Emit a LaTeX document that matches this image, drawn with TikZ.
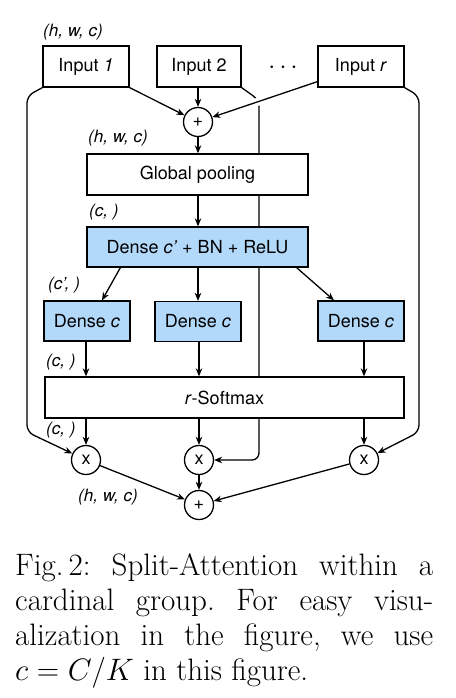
\documentclass[tikz,border=0pt]{standalone}
\usepackage{graphicx}
\usepackage{fontspec}
\newfontfamily\hv{TeX Gyre Heros}
\usetikzlibrary{arrows.meta,calc}
\definecolor{boxblue}{RGB}{178,216,250}
\pgfdeclarelayer{bg}
\pgfsetlayers{bg,main}
\frenchspacing
\begin{document}
\begin{tikzpicture}[x=1pt,y=-1pt,
  box/.style={draw, line width=1.3pt, fill=white, minimum height=41pt, inner sep=0pt, font=\hv\fontsize{18}{20}\selectfont},
  bluebox/.style={box, fill=boxblue},
  op/.style={draw, circle, line width=1.3pt, fill=white, minimum size=29pt, inner sep=0pt, font=\hv\fontsize{18}{20}\selectfont},
  lbl/.style={anchor=west, inner sep=0pt, font=\hv\itshape\fontsize{17}{20}\selectfont},
  arr/.style={line width=1.3pt, -{Stealth[length=8pt,width=6.5pt]}},
  capline/.style={anchor=base west, inner sep=0pt, font=\fontsize{31}{35}\selectfont}]
\useasboundingbox (0,0) rectangle (455,698);
% nodes
\node[box, minimum width=86pt] (in1) at (86,66.5) {Input \textit{1}};
\node[box, minimum width=84pt] (in2) at (199,66.5) {Input 2};
\node[box, minimum width=86pt] (inr) at (361,66.5) {Input \textit{r}};
\node[inner sep=0pt, font=\fontsize{24}{26}\selectfont] (dots) at (283,68) {$\cdots$};
\node[lbl] (l1) at (43,32) {(h, w, c)};
\node[op] (p1) at (198,122) {+};
\node[lbl] (l2) at (88,138) {(h, w, c)};
\node[box, minimum width=221pt] (gp) at (197.5,174.5) {Global pooling};
\node[lbl] (l3) at (89,212) {(c, )};
\node[bluebox, minimum width=221pt, minimum height=40pt] (dn) at (197.5,247) {Dense \textit{c’} + BN + ReLU};
\node[lbl] (l4) at (48,285) {(c’, )};
\node[bluebox, minimum width=86pt, minimum height=40pt] (d1) at (87,321) {Dense \textit{c}};
\node[bluebox, minimum width=86pt, minimum height=40pt] (d2) at (198,321.5) {Dense \textit{c}};
\node[bluebox, minimum width=86pt, minimum height=40pt] (d3) at (361,321) {Dense \textit{c}};
\node[lbl] (l5) at (46,362) {(c, )};
\node[box, minimum width=359pt] (sm) at (224.5,397.5) {\textit{r}-Softmax};
\node[lbl] (l6) at (46,430) {(c, )};
\node[op] (x1) at (86,460) {x};
\node[op] (x2) at (199,460) {x};
\node[op] (x3) at (364,460) {x};
\node[op] (p2) at (199,505) {+};
\node[lbl] (l7) at (78,497) {(h, w, c)};
% bend points
\coordinate (bl1) at (27,96);
\coordinate (bl2) at (27,432);
\coordinate (br1) at (419,96);
\coordinate (br2) at (419,432);
\coordinate (bm1) at (259,100);
\coordinate (bm2) at (259,460);
\coordinate (rs) at ($(inr.south west)+(0,-6)$);
% bypass connectors behind boxes
\begin{pgfonlayer}{bg}
\draw[arr, rounded corners=7pt] (in1.south west) -- (bl1) -- (bl2) -- (x1);
\draw[arr, rounded corners=7pt] (inr.south east) -- (br1) -- (br2) -- (x3);
\draw[arr, rounded corners=7pt] (in2.south east) -- (bm1) -- (bm2) -- (x2);
\draw[white, line width=8pt] (rs) -- (p1);
\end{pgfonlayer}
% connectors
\draw[arr] (in1.south east) -- (p1);
\draw[arr] (p1 |- in2.south) -- (p1);
\draw[arr] (rs) -- (p1);
\draw[arr] (p1) -- (p1 |- gp.north);
\draw[arr] (p1 |- gp.south) -- (p1 |- dn.north);
\draw[arr] ($(dn.south west)+(34,0)$) -- ($(d1.north)+(15,0)$);
\draw[arr] (d2 |- dn.south) -- (d2.north);
\draw[arr] ($(dn.south east)+(-12,0)$) -- ($(d3.north)+(-27,0)$);
\draw[arr] (x1 |- d1.south) -- (x1 |- sm.north);
\draw[arr] (x2 |- d2.south) -- (x2 |- sm.north);
\draw[arr] (x3 |- d3.south) -- (x3 |- sm.north);
\draw[arr] (x1 |- sm.south) -- (x1);
\draw[arr] (x2 |- sm.south) -- (x2);
\draw[arr] (x3 |- sm.south) -- (x3);
\draw[arr] (x1) -- (p2);
\draw[arr] (x2) -- (p2);
\draw[arr] (x3) -- (p2);
% caption
\node[capline] (c1) at (15,575) {\makebox[418pt][s]{Fig.\,2: Split-Attention within a}};
\node[capline] (c2) at (15,610) {\makebox[418pt][s]{cardinal group. For easy visu-}};
\node[capline] (c3) at (15,645) {\makebox[418pt][s]{alization in the figure, we use}};
\node[capline] (c4) at (15,680) {\scalebox{1.246}{$c=C/K$} in this figure.};
\end{tikzpicture}
\end{document}
